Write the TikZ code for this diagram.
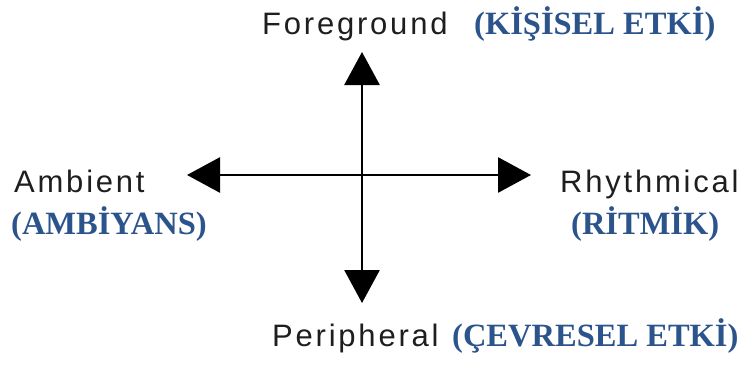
\documentclass[tikz,border=0pt]{standalone}
\usepackage{fontspec}
\setmainfont{Liberation Serif}
\newfontfamily\lbl[LetterSpace=9]{Liberation Sans}
\usetikzlibrary{arrows.meta}
\definecolor{tkblue}{RGB}{44,84,140}
\definecolor{lblgray}{RGB}{30,30,30}
\tikzset{
  engl/.style={inner sep=0pt, anchor=base west, text=lblgray, font=\lbl\fontsize{31}{33}\selectfont},
  turk/.style={inner sep=0pt, anchor=base west, text=tkblue, font=\bfseries\fontsize{32.5}{34}\selectfont},
  axis/.style={line width=2.8pt, {Triangle[length=33pt,width=35pt]}-{Triangle[length=33pt,width=35pt]}}
}
\begin{document}
\begin{tikzpicture}[x=1pt,y=-1pt]
\useasboundingbox (0,0) rectangle (754,367);
\coordinate (top) at (362,52);
\coordinate (bot) at (362,303);
\coordinate (lft) at (187,175);
\coordinate (rgt) at (531,175);
\draw[axis] (bot) -- (top);
\draw[axis] (lft) -- (rgt);
\node[engl] (fg) at (262,34) {Foreground};
\node[turk] (fgt) at (474,34) {(KİŞİSEL ETKİ)};
\node[engl] (amb) at (14,192) {Ambient};
\node[turk] (ambt) at (11,234) {(AMBİYANS)};
\node[engl] (rh) at (560,192) {Rhythmical};
\node[turk] (rht) at (571,234) {(RİTMİK)};
\node[engl] (per) at (272,346) {Peripheral};
\node[turk] (pert) at (452,346) {(ÇEVRESEL ETKİ)};
\end{tikzpicture}
\end{document}
